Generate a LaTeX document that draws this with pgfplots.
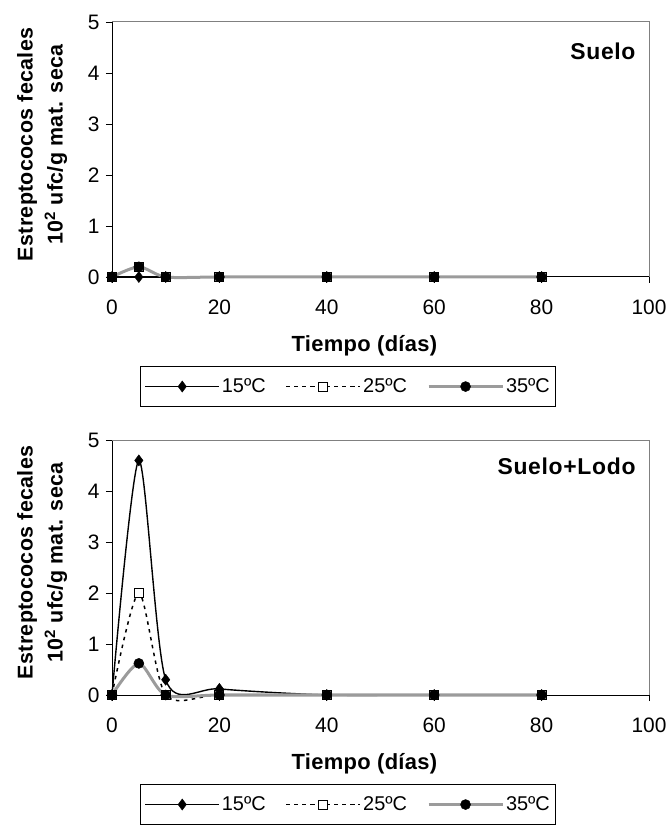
\documentclass[border=0pt]{standalone}
\usepackage{fontspec}
\setmainfont{Liberation Sans}
\newfontfamily\trackA[LetterSpace=1.5]{Liberation Sans}
\newfontfamily\trackB[LetterSpace=3]{Liberation Sans}
\usepackage{pgfplots}
\pgfplotsset{compat=1.18}

\definecolor{grayline}{RGB}{155,155,155}
\definecolor{framegray}{RGB}{128,128,128}

\tikzset{
  s15/.style={black, line width=1.4bp, smooth, tension=0.45, mark=diamond*, mark size=5.5bp, mark options={solid, fill=black, draw=black, line width=0.5bp}},
  s25/.style={black, line width=1.5bp, dash pattern=on 3.5bp off 4.5bp, smooth, tension=0.45, mark=square*, mark size=4.5bp, mark options={solid, fill=white, draw=black, line width=1bp}},
  s35/.style={grayline, line width=3bp, smooth, tension=0.45, mark=*, mark size=5bp, mark options={solid, fill=black, draw=black, line width=0.5bp}},
}

\pgfplotsset{
  panel/.style={
    scale only axis, width=537bp, height=255bp,
    xmin=0, xmax=100, ymin=0, ymax=5,
    axis x line*=bottom, axis y line*=left,
    axis line style={black, line width=1bp},
    tick align=outside, major tick length=6bp,
    tick style={black, line width=0.8bp},
    xtick={0,20,40,60,80,100}, ytick={0,1,2,3,4,5},
    /pgf/number format/assume math mode=true,
    tick label style={font=\fontsize{21}{22}\selectfont},
    xticklabel style={yshift=-13bp},
    yticklabel style={xshift=-3bp},
    clip=false,
    xlabel={Tiempo (días)},
    xlabel style={font=\trackA\bfseries\fontsize{22}{24}\selectfont, at={(axis description cs:0.47,-0.27)}, anchor=center},
    ylabel={Estreptococos fecales\\10\textsuperscript{2} ufc/g mat. seca},
    ylabel style={font=\trackA\bfseries\fontsize{21.5}{30}\selectfont, align=center, at={(axis description cs:-0.130,0.52)}, anchor=center},
    legend columns=3,
    legend style={at={(axis description cs:0.052,-0.348)}, anchor=north west, draw=black, line width=1.2bp,
      font=\fontsize{20}{21}\selectfont, inner xsep=4bp, inner ysep=10.5bp,
      /tikz/every even column/.append style={column sep=18bp}},
    legend image code/.code={\draw[mark repeat=2,mark phase=2,##1] plot coordinates {(0bp,0bp) (37bp,0bp) (74bp,0bp)};},
  }
}

\begin{document}
\begin{tikzpicture}
\useasboundingbox (0,0) rectangle (671bp,832bp);

% Top panel: Suelo
\begin{axis}[panel, at={(112bp,555bp)}, anchor=south west]
\addplot[s15] coordinates {(0,0) (5,0) (10,0) (20,0) (40,0) (60,0) (80,0)};
\addlegendentry{15ºC}
\addplot[s25] coordinates {(0,0) (5,0.2) (10,0) (20,0) (40,0) (60,0) (80,0)};
\addlegendentry{25ºC}
\addplot[s35] coordinates {(0,0) (5,0.2) (10,0) (20,0) (40,0) (60,0) (80,0)};
\addlegendentry{35ºC}
\draw[framegray, line width=1bp] (rel axis cs:0,1) -- (rel axis cs:1,1) -- (rel axis cs:1,0);
\node[anchor=east, font=\trackB\bfseries\fontsize{23}{24}\selectfont] at ([xshift=-10bp, yshift=-29bp]rel axis cs:1,1) {Suelo};
\end{axis}

% Bottom panel: Suelo+Lodo
\begin{axis}[panel, at={(112bp,137bp)}, anchor=south west]
\addplot[s15] coordinates {(0,0) (5,4.6) (10,0.3) (20,0.12) (40,0) (60,0) (80,0)};
\addlegendentry{15ºC}
\addplot[s25] coordinates {(0,0) (5,2.0) (10,0) (20,0) (40,0) (60,0) (80,0)};
\addlegendentry{25ºC}
\addplot[s35] coordinates {(0,0) (5,0.62) (10,0) (20,0) (40,0) (60,0) (80,0)};
\addlegendentry{35ºC}
\draw[framegray, line width=1bp] (rel axis cs:0,1) -- (rel axis cs:1,1) -- (rel axis cs:1,0);
\node[anchor=east, font=\trackB\bfseries\fontsize{23}{24}\selectfont] at ([xshift=-10bp, yshift=-26bp]rel axis cs:1,1) {Suelo+Lodo};
\end{axis}
\end{tikzpicture}
\end{document}
